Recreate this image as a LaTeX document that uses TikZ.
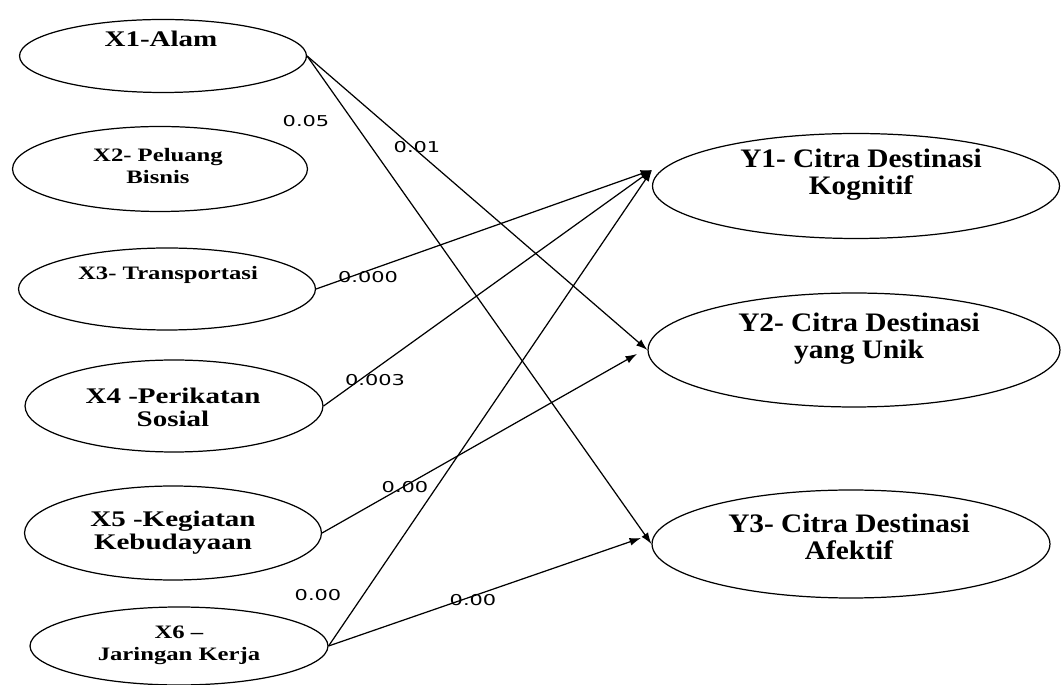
\documentclass[tikz,border=0pt]{standalone}
\usepackage{fontspec}
\usetikzlibrary{shapes.geometric, arrows.meta}
\newfontfamily\xfont{Liberation Serif}[FakeStretch=1.3]
\newfontfamily\yfont{Liberation Serif}[FakeStretch=1.1]
\newfontfamily\numfont{DejaVu Sans}[FakeStretch=1.4]
\tikzset{
  var/.style={draw, ellipse, line width=0.7pt, inner sep=0pt},
  xbig/.style={font=\xfont\bfseries\fontsize{12.7}{13.1}\selectfont, align=center},
  xsmall/.style={font=\xfont\bfseries\fontsize{10.8}{12.5}\selectfont, align=center},
  ylab/.style={font=\yfont\bfseries\fontsize{15.2}{15.4}\selectfont, align=center},
  coef/.style={font=\numfont\fontsize{8.5}{10}\selectfont, inner sep=0pt}
}
\begin{document}
\begin{tikzpicture}[>={Latex[length=6.5pt,width=4.5pt]}, x=0.02cm, y=-0.02cm, line width=0.7pt]
\useasboundingbox (0,0) rectangle (1062,685);

% exogenous
\node[var, minimum width=5.74cm, minimum height=1.46cm](x1) at (163,56){};
\node[var, minimum width=5.9cm, minimum height=1.7cm](x2) at (160,169){};
\node[var, minimum width=5.94cm, minimum height=1.64cm](x3) at (167,289){};
\node[var, minimum width=5.96cm, minimum height=1.84cm](x4) at (174,406){};
\node[var, minimum width=5.94cm, minimum height=1.88cm](x5) at (173,533){};
\node[var, minimum width=5.96cm, minimum height=1.56cm](x6) at (179,646){};
\node[xbig](x1t) at (161,39){X1-Alam};
\node[xsmall](x2t) at (158,166){X2- Peluang\\Bisnis};
\node[xsmall](x3t) at (168,275){X3- Transportasi};
\node[xbig](x4t) at (173,407){X4 -Perikatan\\Sosial};
\node[xbig](x5t) at (173,533){X5 -Kegiatan\\Kebudayaan};
\node[xsmall](x6t) at (179,645){X6 –\\Jaringan Kerja};

% endogenous
\node[var, minimum width=8.14cm, minimum height=2.1cm](y1) at (856,186){};
\node[var, minimum width=8.24cm, minimum height=2.28cm](y2) at (854,350){};
\node[var, minimum width=7.96cm, minimum height=2.16cm](y3) at (851,544){};
\node[ylab](y1t) at (861,175){Y1- Citra Destinasi\\Kognitif};
\node[ylab](y2t) at (859,339){Y2- Citra Destinasi\\yang Unik};
\node[ylab](y3t) at (849,537){Y3- Citra Destinasi\\Afektif};

\coordinate (y1in) at (652,170);
\coordinate (y2in) at (637,354);
\coordinate (y3in) at (641,538);

\draw[->](x1.east)--(y2.west);
\draw[->](x1.east)--(y3.west);
\draw[->](x3.east)--(y1in);
\draw[->](x4.east)--(y1in);
\draw[->](x5.east)--(y2in);
\draw[->](x6.east)--(y1in);
\draw[->](x6.east)--(y3in);

\node[coef](c1) at (306,121){0.05};
\node[coef](c2) at (417,147){0.01};
\node[coef](c3) at (368,277){0.000};
\node[coef](c4) at (375,380){0.003};
\node[coef](c5) at (405,487){0.00};
\node[coef](c6) at (318,595){0.00};
\node[coef](c7) at (473,600){0.00};

\end{tikzpicture}
\end{document}
